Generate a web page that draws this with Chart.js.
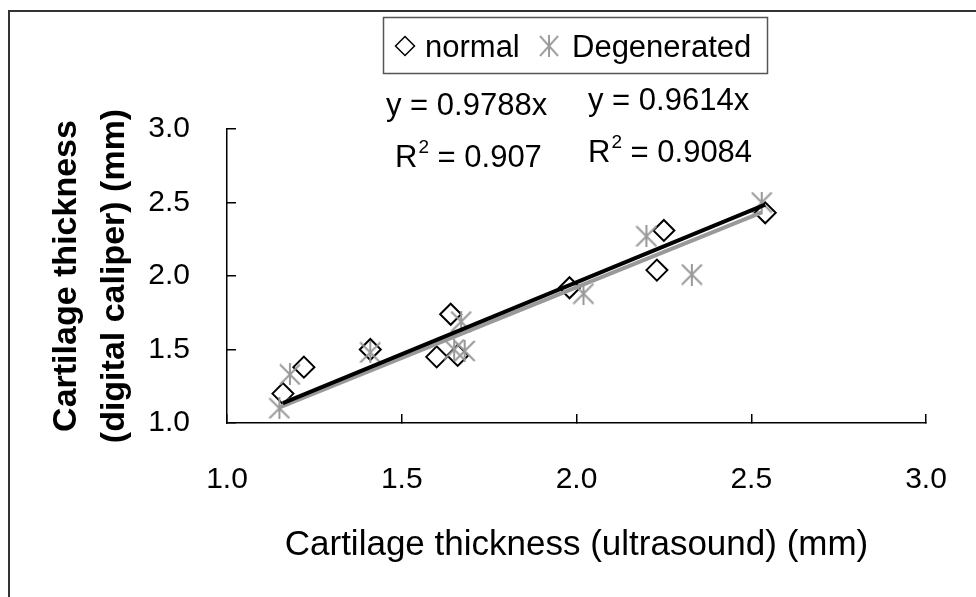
<!DOCTYPE html>
<html lang="en">
<head>
<meta charset="UTF-8">
<title>Cartilage thickness: ultrasound vs digital caliper</title>
<style>
    html, body {
        margin: 0;
        padding: 0;
        background: #fff;
        overflow: hidden;
    }
    #wrap {
        position: relative;
        width: 976px;
        height: 597px;
    }
    #frame {
        position: absolute;
        left: 8px;
        top: 10px;
        width: 1200px;
        height: 800px;
        border-left: 2px solid #333;
        border-top: 2px solid #333;
    }
    #chart-box {
        position: absolute;
        left: 0;
        top: 0;
        width: 976px;
        height: 597px;
    }
</style>
<script src="https://cdn.jsdelivr.net/npm/chart.js"></script>
</head>
<body>
<div id="wrap">
    <div id="frame"></div>
    <div id="chart-box"><canvas id="thickness-chart"></canvas></div>
</div>
<script>
    // values (mm)
    const normalX = [1.16, 1.22, 1.41, 1.60, 1.64, 1.66, 1.98, 2.23, 2.25, 2.54];
    const normalY = [1.20, 1.38, 1.50, 1.45, 1.74, 1.46, 1.92, 2.04, 2.31, 2.43];
    const degenX  = [1.15, 1.18, 1.41, 1.65, 1.67, 1.68, 2.02, 2.20, 2.33, 2.53];
    const degenY  = [1.10, 1.33, 1.48, 1.50, 1.69, 1.49, 1.88, 2.27, 2.01, 2.50];

    const seriesNames = ['normal', 'Degenerated'];
    const slopes = [0.9788, 0.9614];      // trendlines through the origin
    const rSquared = ['0.907', '0.9084'];

    const xTicks = [1.0, 1.5, 2.0, 2.5, 3.0];
    const yTicks = [1.0, 1.5, 2.0, 2.5, 3.0];

    const FONT = '"Liberation Sans", Arial, sans-serif';
    const GREY = '#999999';

    Chart.defaults.font.family = FONT;
    Chart.defaults.color = '#000';

    function toPoints(xs, ys) {
        return xs.map((x, i) => ({ x: x, y: ys[i] }));
    }

    // Excel style trendline: y = slope * x over the range of the series
    function trendPoints(xs, slope) {
        const lo = Math.min(...xs);
        const hi = Math.max(...xs);
        return [{ x: lo, y: slope * lo }, { x: hi, y: slope * hi }];
    }

    // asterisk marker (x plus a vertical bar)
    function makeAsterisk(size, color, width) {
        const c = document.createElement('canvas');
        c.width = size;
        c.height = size;
        const g = c.getContext('2d');
        g.strokeStyle = color;
        g.lineWidth = width;
        const m = 1;
        g.beginPath();
        g.moveTo(m, m); g.lineTo(size - m, size - m);
        g.moveTo(size - m, m); g.lineTo(m, size - m);
        g.moveTo(size / 2, 0); g.lineTo(size / 2, size);
        g.stroke();
        return c;
    }
    const asterisk = makeAsterisk(22, GREY, 2);

    function drawDiamond(ctx, x, y, r, lw) {
        ctx.save();
        ctx.strokeStyle = '#000';
        ctx.lineWidth = lw;
        ctx.beginPath();
        ctx.moveTo(x, y - r);
        ctx.lineTo(x + r, y);
        ctx.lineTo(x, y + r);
        ctx.lineTo(x - r, y);
        ctx.closePath();
        ctx.stroke();
        ctx.restore();
    }

    function drawEquation(ctx, slope, r2, x, yBase, rx, rBase) {
        ctx.font = '31px ' + FONT;
        ctx.fillText('y = ' + slope + 'x', x, yBase);
        ctx.fillText('R', rx, rBase);
        const w = ctx.measureText('R').width;
        ctx.font = '19px ' + FONT;
        ctx.fillText('2', rx + w + 1, rBase - 14);
        const w2 = ctx.measureText('2').width;
        ctx.font = '31px ' + FONT;
        ctx.fillText(' = ' + r2, rx + w + w2 + 1, rBase);
    }

    // boxed legend and the trendline labels
    const annotationPlugin = {
        id: 'annotations',
        afterDraw(chart) {
            const ctx = chart.ctx;
            ctx.save();
            ctx.strokeStyle = '#555';
            ctx.lineWidth = 1.5;
            ctx.strokeRect(383.5, 17.5, 384, 56);

            drawDiamond(ctx, 405, 46, 9.5, 1.5);
            ctx.drawImage(asterisk, 549 - 10, 46 - 11, 20, 22);

            ctx.fillStyle = '#000';
            ctx.textBaseline = 'alphabetic';
            ctx.textAlign = 'left';
            ctx.font = '31px ' + FONT;
            ctx.fillText(seriesNames[0], 425, 57);
            ctx.fillText(seriesNames[1], 572, 57);

            drawEquation(ctx, slopes[0], rSquared[0], 386, 115, 395, 167);
            drawEquation(ctx, slopes[1], rSquared[1], 588, 110, 588, 162);
            ctx.restore();
        }
    };

    const ctx = document.getElementById('thickness-chart').getContext('2d');

    new Chart(ctx, {
        type: 'scatter',
        data: {
            datasets: [
                {
                    label: 'trend ' + seriesNames[0],
                    data: trendPoints(normalX, slopes[0]),
                    showLine: true,
                    borderColor: '#000',
                    borderWidth: 4,
                    pointRadius: 0,
                    order: 0
                },
                {
                    label: 'trend ' + seriesNames[1],
                    data: trendPoints(degenX, slopes[1]),
                    showLine: true,
                    borderColor: GREY,
                    borderWidth: 4,
                    pointRadius: 0,
                    order: 1
                },
                {
                    label: seriesNames[1],
                    data: toPoints(degenX, degenY),
                    pointStyle: asterisk,
                    pointRadius: 10,
                    order: 2
                },
                {
                    label: seriesNames[0],
                    data: toPoints(normalX, normalY),
                    pointStyle: 'rectRot',
                    pointRadius: 10.5,
                    pointBorderWidth: 2,
                    pointBorderColor: '#000',
                    pointBackgroundColor: 'rgba(0,0,0,0)',
                    order: 3
                }
            ]
        },
        options: {
            responsive: true,
            maintainAspectRatio: false,
            animation: false,
            layout: {
                padding: { left: 0, right: 50, top: 129, bottom: 0 }
            },
            plugins: {
                legend: { display: false },
                tooltip: { enabled: false }
            },
            scales: {
                x: {
                    type: 'linear',
                    min: 1,
                    max: 3,
                    afterBuildTicks: s => { s.ticks = xTicks.map(v => ({ value: v })); },
                    afterFit: s => {
                        s.height = 174;
                        // the big label padding should not eat into the side margins
                        s.paddingLeft = 0;
                        s.paddingRight = 22;
                    },
                    ticks: {
                        callback: v => Number(v).toFixed(1),
                        font: { size: 30 },
                        color: '#000',
                        padding: 48,
                        maxRotation: 0,
                        autoSkip: false
                    },
                    grid: {
                        drawOnChartArea: false,
                        tickLength: -9,
                        color: '#000',
                        lineWidth: 1.5
                    },
                    border: { color: '#000', width: 1.5 },
                    title: {
                        display: true,
                        text: 'Cartilage thickness (ultrasound) (mm)',
                        font: { size: 35, lineHeight: 1 },
                        color: '#000',
                        padding: { top: 0, bottom: 34 }
                    }
                },
                y: {
                    type: 'linear',
                    min: 1,
                    max: 3,
                    afterBuildTicks: s => { s.ticks = yTicks.map(v => ({ value: v })); },
                    afterFit: s => {
                        s.width = 227;
                        s.paddingTop = 0;
                        s.paddingBottom = 0;
                    },
                    ticks: {
                        callback: v => Number(v).toFixed(1),
                        font: { size: 30 },
                        color: '#000',
                        padding: 46
                    },
                    grid: {
                        drawOnChartArea: false,
                        tickLength: -9,
                        color: '#000',
                        lineWidth: 1.5
                    },
                    border: { color: '#000', width: 1.5 },
                    title: {
                        display: true,
                        text: ['Cartilage thickness', '(digital caliper) (mm)'],
                        font: { size: 34, weight: 'bold', lineHeight: 1.4 },
                        color: '#000',
                        padding: { top: 43, bottom: 0 }
                    }
                }
            }
        },
        plugins: [annotationPlugin]
    });
</script>
</body>
</html>
